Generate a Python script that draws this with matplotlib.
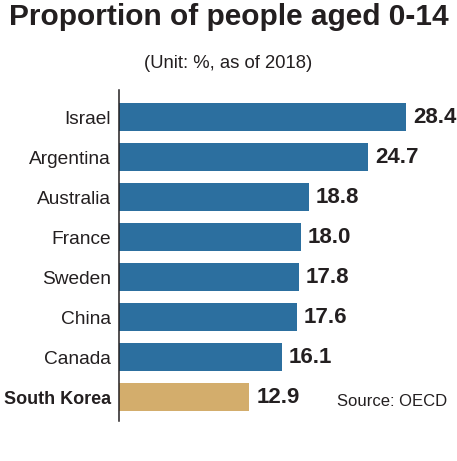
import matplotlib.pyplot as plt

countries = ['Israel', 'Argentina', 'Australia', 'France', 'Sweden', 'China', 'Canada', 'South Korea']
values = [28.4, 24.7, 18.8, 18.0, 17.8, 17.6, 16.1, 12.9]
value_labels = ['28.4', '24.7', '18.8', '18.0', '17.8', '17.6', '16.1', '12.9']

blue = '#2c6f9f'
tan = '#d3ad6c'
ink = '#231f20'

plt.rcParams['font.family'] = ['Liberation Sans', 'DejaVu Sans']

W, H = 457, 461
fig = plt.figure(figsize=(W / 100, H / 100), dpi=100)

# axes placed in pixels: zero line at x=119, spans y=90..421 from top
left, top, bottom = 119, 90, 421
ax = fig.add_axes([left / W, (H - bottom) / H, (W - left) / W, (bottom - top) / H])

colors = [tan if c == 'South Korea' else blue for c in countries]
ypos = list(range(len(countries)))
ax.barh(ypos, values, height=0.7, color=colors)

for y, v, lab in zip(ypos, values, value_labels):
    ax.text(v + 0.7, y, lab, va='center', ha='left', fontsize=16,
            fontweight='bold', color=ink)

ax.set_xlim(0, (W - left) / 10.1)
ax.set_ylim(7.6, -0.675)
ax.set_yticks(ypos)
ax.set_yticklabels(countries, fontsize=13.8, color=ink)
sk = ax.get_yticklabels()[-1]
sk.set_fontweight('bold')
sk.set_fontsize(13)
ax.tick_params(axis='y', length=0, pad=6)
ax.set_xticks([])
for s in ['top', 'right', 'bottom']:
    ax.spines[s].set_visible(False)
ax.spines['left'].set_color(ink)
ax.spines['left'].set_linewidth(1.1)

fig.text(0.5, 1 - 17 / H, 'Proportion of people aged 0-14', ha='center', va='center',
         fontsize=21.5, fontweight='bold', color=ink)
fig.text(0.5, 1 - 63 / H, '(Unit: %, as of 2018)', ha='center', va='center',
         fontsize=13.3, color=ink)
fig.text(447 / W, 1 - 401 / H, 'Source: OECD', ha='right', va='center',
         fontsize=12, color=ink)

fig.savefig('out.png', dpi=100)
